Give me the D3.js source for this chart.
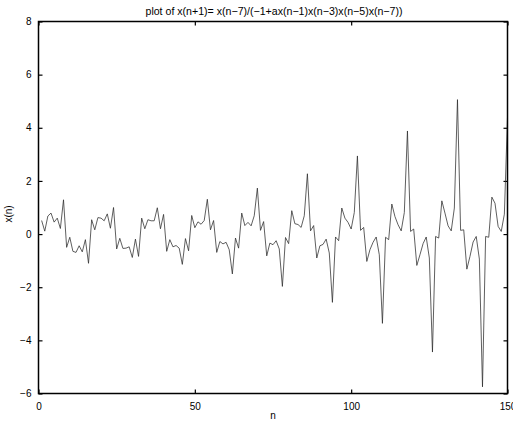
<!DOCTYPE html>
<html>
<head>
<meta charset="utf-8">
<script src="https://cdn.jsdelivr.net/npm/d3@7"></script>
<style>
  body { margin: 0; background: #fff; }
  svg { display: block; font-family: "Liberation Sans", Arial, sans-serif; }
  .axis text { font-size: 10px; fill: #000; }
  .axis path { display: none; }
  .axis line { stroke: #000; stroke-width: 1.2; }
</style>
</head>
<body>
<svg width="513" height="423"></svg>
<script>
// x(n), n = 1 .. 150
const xn = [
  0.51, 0.11, 0.68, 0.79, 0.45, 0.60, 0.21, 1.29, -0.50, -0.12,
  -0.65, -0.69, -0.44, -0.67, -0.21, -1.10, 0.54, 0.16, 0.62, 0.60,
  0.50, 0.76, 0.22, 1.00, -0.56, -0.16, -0.54, -0.53, -0.48, -0.88,
  -0.19, -0.84, 0.60, 0.20, 0.54, 0.50, 0.50, 0.99, 0.20, 0.74,
  -0.65, -0.21, -0.48, -0.43, -0.53, -1.14, -0.17, -0.63, 0.70, 0.24,
  0.46, 0.37, 0.51, 1.31, 0.16, 0.51, -0.69, -0.28, -0.37, -0.31,
  -0.59, -1.50, -0.15, -0.53, 0.79, 0.32, 0.44, 0.31, 0.69, 1.73,
  0.14, 0.47, -0.82, -0.34, -0.40, -0.25, -0.56, -1.97, -0.13, -0.36,
  0.88, 0.39, 0.36, 0.25, 0.69, 2.27, 0.12, 0.32, -0.90, -0.44,
  -0.39, -0.19, -0.71, -2.57, -0.11, -0.25, 0.98, 0.60, 0.44, 0.19,
  0.81, 2.94, 0.14, 0.25, -1.03, -0.59, -0.31, -0.11, -0.78, -3.36,
  -0.12, -0.21, 1.13, 0.66, 0.35, 0.12, 0.81, 3.88, 0.10, 0.19,
  -1.18, -0.78, -0.36, -0.11, -0.90, -4.44, -0.09, -0.15, 1.25, 0.79,
  0.31, 0.12, 0.98, 5.06, 0.14, 0.16, -1.32, -0.84, -0.30, -0.09,
  -0.94, -5.75, -0.09, -0.12, 1.39, 1.16, 0.29, 0.10, 0.75, 4.40
];
const nStart = 1;

const xTicks = [0, 50, 100, 150];
const yTicks = [-6, -4, -2, 0, 2, 4, 6, 8];

const title = 'plot of x(n+1)= x(n\u22127)/(\u22121+ax(n\u22121)x(n\u22123)x(n\u22125)x(n\u22127))';

const svg = d3.select('svg');

const plotLeft = 38.5, plotRight = 507.5, plotTop = 21.5, plotBottom = 393.5;
const tick = 4;

const xScale = d3.scaleLinear().domain([0, 150]).range([plotLeft, plotRight]);
const yScale = d3.scaleLinear().domain([-6, 8]).range([plotBottom, plotTop]);

const fmt = (d) => d < 0 ? '\u2212' + Math.abs(d) : '' + d;

// bottom axis with labels, ticks pointing in
svg.append('g')
  .attr('class', 'axis')
  .attr('transform', `translate(0, ${plotBottom})`)
  .call(d3.axisBottom(xScale).tickValues(xTicks).tickSize(-tick).tickPadding(tick + 5).tickFormat(fmt));

svg.append('g')
  .attr('class', 'axis')
  .attr('transform', `translate(0, ${plotTop})`)
  .call(d3.axisTop(xScale).tickValues(xTicks).tickSize(-tick).tickFormat(''));

svg.append('g')
  .attr('class', 'axis')
  .attr('transform', `translate(${plotLeft}, 0)`)
  .call(d3.axisLeft(yScale).tickValues(yTicks).tickSize(-tick).tickPadding(tick + 3).tickFormat(fmt));

svg.append('g')
  .attr('class', 'axis')
  .attr('transform', `translate(${plotRight}, 0)`)
  .call(d3.axisRight(yScale).tickValues(yTicks).tickSize(-tick).tickFormat(''));

// the series
const line = d3.line()
  .x((d, i) => xScale(nStart + i))
  .y((d) => yScale(d));

svg.append('path')
  .datum(xn)
  .attr('fill', 'none')
  .attr('stroke', '#2a2a2a')
  .attr('stroke-width', 0.75)
  .attr('d', line);

// axes box
svg.append('rect')
  .attr('x', plotLeft)
  .attr('y', plotTop)
  .attr('width', plotRight - plotLeft)
  .attr('height', plotBottom - plotTop)
  .attr('fill', 'none')
  .attr('stroke', '#000')
  .attr('stroke-width', 1.5);

svg.append('text')
  .attr('x', (plotLeft + plotRight) / 2 + 1)
  .attr('y', 15)
  .attr('text-anchor', 'middle')
  .attr('font-size', 10.6)
  .text(title);

svg.append('text')
  .attr('x', (plotLeft + plotRight) / 2)
  .attr('y', 419)
  .attr('text-anchor', 'middle')
  .attr('font-size', 10)
  .text('n');

svg.append('text')
  .attr('transform', `translate(12, 214) rotate(-90)`)
  .attr('text-anchor', 'middle')
  .attr('font-size', 10)
  .text('x(n)');
</script>
</body>
</html>
